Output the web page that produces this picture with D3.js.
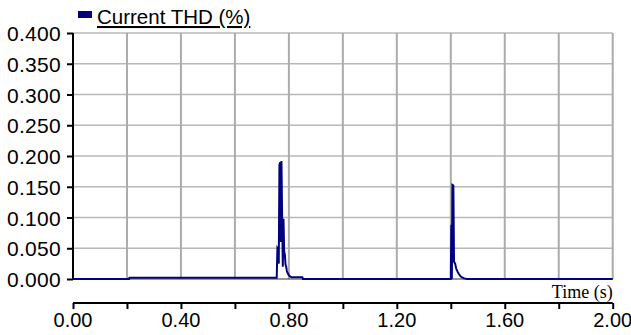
<!DOCTYPE html>
<html>
<head>
<meta charset="utf-8">
<script src="https://cdn.jsdelivr.net/npm/d3@7"></script>
<style>
  body { margin: 0; background: #fff; }
  svg { display: block; }
  .lbl { font-family: "Liberation Sans", Arial, sans-serif; font-size: 20px; fill: #000; }
</style>
</head>
<body>
<script>
// * values
var seriesName = 'Current THD (%)';
var timeTicks = [0, 0.2, 0.4, 0.6, 0.8, 1.0, 1.2, 1.4, 1.6, 1.8, 2.0];
var timeLabels = [0, 0.4, 0.8, 1.2, 1.6, 2.0];
var thdTicks = [0, 0.05, 0.1, 0.15, 0.2, 0.25, 0.3, 0.35, 0.4];

var times = [0, 0.208, 0.209, 0.755, 0.7575, 0.760, 0.7625, 0.765, 0.7675, 0.770, 0.7725, 0.775,
             0.7775, 0.780, 0.7825, 0.785, 0.7875, 0.790, 0.7925, 0.795, 0.800, 0.805, 0.810,
             0.850, 0.852, 1.400, 1.402, 1.404, 1.406, 1.4095, 1.412, 1.416, 1.420, 1.425,
             1.430, 1.435, 1.440, 1.450, 1.460, 2.0];
var thd   = [0, 0, 0.002, 0.002, 0.050, 0.048, 0.025, 0.185, 0.190, 0.060, 0.192, 0.100,
             0.020, 0.098, 0.045, 0.040, 0.024, 0.020, 0.013, 0.010, 0.006, 0.004, 0.003,
             0.003, 0, 0, 0.088, 0.0, 0.153, 0.152, 0.028, 0.025, 0.017, 0.012,
             0.008, 0.005, 0.003, 0.001, 0, 0];

var W = 631, H = 335;
var svg = d3.select('body').append('svg').attr('width', W).attr('height', H);

var x = d3.scaleLinear().domain([0, 2]).range([73, 612.7]);
var y = d3.scaleLinear().domain([0, 0.4]).range([279, 33]);

// grid
svg.append('g').selectAll('line').data(thdTicks.slice(1)).enter().append('line')
  .attr('x1', x(0)).attr('x2', x(2))
  .attr('y1', function (d) { return y(d); }).attr('y2', function (d) { return y(d); })
  .attr('stroke', '#b8b8b8').attr('stroke-width', 1.5);
svg.append('g').selectAll('line').data(timeTicks.slice(1)).enter().append('line')
  .attr('x1', function (d) { return x(d); }).attr('x2', function (d) { return x(d); })
  .attr('y1', y(0.4)).attr('y2', y(0))
  .attr('stroke', '#ababab').attr('stroke-width', 2);

// zero line
svg.append('line').attr('x1', x(0)).attr('x2', x(2)).attr('y1', y(0)).attr('y2', y(0))
  .attr('stroke', '#333').attr('stroke-width', 1);

// y axis
var yAxis = d3.axisLeft(y).tickValues(thdTicks).tickFormat(d3.format('.3f')).tickSize(6).tickPadding(5);
var gy = svg.append('g').attr('transform', 'translate(' + x(0) + ',0)').call(yAxis);
gy.select('.domain').attr('stroke', '#000').attr('stroke-width', 2).attr('d', 'M0,' + y(0.4) + 'V' + y(0));
gy.selectAll('.tick line').attr('stroke', '#000').attr('stroke-width', 2);
gy.selectAll('.tick text').attr('class', 'lbl').style('font-size', '21px').style('letter-spacing', '0.3px')
  .attr('x', -12).attr('dy', '0.36em');

// x axis, drawn apart below the plot
var xAxis = d3.axisBottom(x).tickValues(timeTicks).tickSize(6).tickFormat('');
var gx = svg.append('g').attr('transform', 'translate(0,303)').call(xAxis);
gx.select('.domain').attr('stroke', '#000').attr('stroke-width', 2).attr('d', 'M' + x(0) + ',0H' + x(2));
gx.selectAll('.tick line').attr('stroke', '#000').attr('stroke-width', 2);
svg.append('g').selectAll('text').data(timeLabels).enter().append('text')
  .attr('class', 'lbl')
  .attr('x', function (d) { return x(d); }).attr('y', 327)
  .attr('text-anchor', 'middle')
  .text(function (d) { return d3.format('.2f')(d); });

svg.append('text').attr('x', x(2)).attr('y', 298).attr('text-anchor', 'end')
  .style('font-family', '"Liberation Serif", "Times New Roman", serif').style('font-size', '18px')
  .text('Time (s)');

// series
var pts = times.map(function (t, i) { return [t, thd[i]]; });
var line = d3.line().x(function (d) { return x(d[0]); }).y(function (d) { return y(d[1]); });
svg.append('path').datum(pts).attr('d', line)
  .attr('fill', 'none').attr('stroke', '#000080').attr('stroke-width', 2).attr('stroke-linejoin', 'miter');

// legend
svg.append('rect').attr('x', 78).attr('y', 11).attr('width', 14).attr('height', 7).attr('fill', '#000080');
svg.append('text').attr('class', 'lbl').attr('x', 97).attr('y', 24)
  .style('font-size', '20.5px').style('text-decoration', 'underline')
  .text(seriesName);
</script>
</body>
</html>
